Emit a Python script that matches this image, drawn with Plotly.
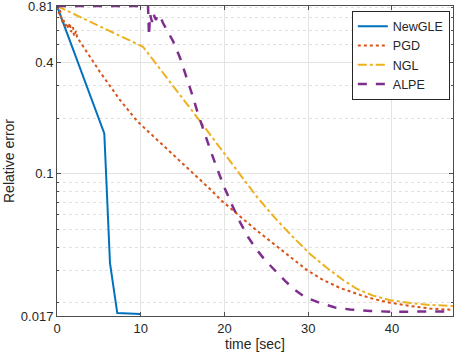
import plotly.graph_objects as go
import math

# ---- data ----
newgle_t = [0, 5.65, 6.33, 7.2, 9.92]
newgle_e = [0.81, 0.1657, 0.0328, 0.01763, 0.0174]

pgd_t = [0, 0.24, 0.36, 0.6, 0.72, 0.96, 1.2, 1.31, 1.55, 1.67, 1.91, 2.03, 2.27, 2.39,
         5.14, 7.53, 9.56, 11.11, 13.5, 15.89, 18.28, 19.71, 21.51, 23.66, 26.05, 27.84,
         29.87, 31.78, 33.81, 36.2, 37.99, 39.78, 42.17, 44.56, 47.31]
pgd_e = [0.81, 0.733, 0.77, 0.664, 0.697, 0.631, 0.655, 0.61, 0.655, 0.586, 0.623, 0.557, 0.593, 0.5503,
         0.3557, 0.2509, 0.1931, 0.1663, 0.1312, 0.1048, 0.0827, 0.0712, 0.0606, 0.0502, 0.0412, 0.0354,
         0.0301, 0.0266, 0.0241, 0.0221, 0.0209, 0.02005, 0.01925, 0.01866, 0.01831]

ngl_t = [0, 10.27, 17.08, 21.86, 23.89, 26.05, 28.08, 30.23, 32.26, 34.17, 35.84, 37.75,
         39.78, 42.17, 44.56, 47.31]
ngl_e = [0.81, 0.4877, 0.1931, 0.0985, 0.0749, 0.0576, 0.046, 0.0368, 0.0309, 0.0266, 0.0238, 0.0219,
         0.0207, 0.01998, 0.01949, 0.01924]

alpe_t = [0, 10.87, 10.99, 11.11, 11.35, 11.47, 11.83, 11.95, 12.31, 12.66, 13.26, 13.86, 14.7, 15.41,
          16.13, 16.85, 17.56, 18.4, 19.24, 20.07, 20.91, 21.86, 22.82, 23.78, 24.85, 26.05, 27.24,
          28.43, 29.63, 31.42, 33.21, 35.0, 37.4, 40.02, 43.37, 47.31]
alpe_e = [0.81, 0.81, 0.5572, 0.7327, 0.6635, 0.7419, 0.6802, 0.7242, 0.7151, 0.6553, 0.5857, 0.5236, 0.4236, 0.3426,
          0.2704, 0.2108, 0.1684, 0.1312, 0.1035, 0.0827, 0.0678, 0.0548, 0.0455, 0.0392, 0.0341, 0.0298, 0.0263,
          0.0235, 0.0215, 0.02, 0.0189, 0.01842, 0.01808, 0.01792, 0.01796, 0.018]

y_ticks = [0.017, 0.1, 0.4, 0.81]
y_ticklabels = ["0.017", "0.1", "0.4", "0.81"]
y_minor = [0.02, 0.03, 0.04, 0.05, 0.06, 0.07, 0.08, 0.09, 0.2, 0.3, 0.5, 0.6, 0.7, 0.8]
x_ticks = [0, 10, 20, 30, 40]

FONT = "Liberation Sans, Arial, sans-serif"
TXT = "#262626"

fig = go.Figure()
fig.add_trace(go.Scatter(x=newgle_t, y=newgle_e, name="NewGLE", mode="lines",
                         line=dict(color="#0072BD", width=2)))
fig.add_trace(go.Scatter(x=pgd_t, y=pgd_e, name="PGD", mode="lines",
                         line=dict(color="#D95319", width=2, dash="dot")))
fig.add_trace(go.Scatter(x=ngl_t, y=ngl_e, name="NGL", mode="lines",
                         line=dict(color="#EDB120", width=2, dash="dashdot")))
fig.add_trace(go.Scatter(x=alpe_t, y=alpe_e, name="ALPE", mode="lines",
                         line=dict(color="#7E2F8E", width=2.5, dash="dash")))

fig.update_layout(
    width=458, height=360,
    margin=dict(l=57, r=5, t=6, b=44),
    paper_bgcolor="white", plot_bgcolor="white",
    font=dict(family=FONT, size=13, color=TXT),
    showlegend=True,
    legend=dict(x=0.992, y=0.985, xanchor="right", yanchor="top",
                bgcolor="white", bordercolor="#262626", borderwidth=1,
                font=dict(size=12.5, color=TXT), tracegroupgap=0,
                itemwidth=30),
)
fig.update_xaxes(
    range=[0, 47.3], tickvals=x_ticks, ticks="inside", ticklen=4,
    tickcolor="#4d4d4d", showline=True, linecolor="#4d4d4d", linewidth=1, mirror="ticks",
    showgrid=True, gridcolor="#e3e3e3", gridwidth=1, zeroline=False, automargin=False,
    title=dict(text="time [sec]", font=dict(size=14, color=TXT), standoff=2),
    tickfont=dict(size=13, color=TXT),
)
fig.update_yaxes(
    type="log", range=[math.log10(0.01699), math.log10(0.8105)],
    tickvals=y_ticks, ticktext=y_ticklabels, ticks="inside", ticklen=4,
    tickcolor="#4d4d4d", showline=True, linecolor="#4d4d4d", linewidth=1, mirror="ticks",
    showgrid=True, gridcolor="#e3e3e3", gridwidth=1, zeroline=False, automargin=False,
    ticklabeloverflow="allow",
    minor=dict(tickvals=y_minor, ticks="inside", ticklen=2, tickcolor="#4d4d4d",
               showgrid=True, gridcolor="#e0e0e0", griddash="dot", gridwidth=1),
    title=dict(text="Relative error", font=dict(size=14, color=TXT), standoff=2),
    tickfont=dict(size=13, color=TXT),
)

fig.write_html("out.html", config={"displayModeBar": False},
               post_script="document.body.style.margin='0';document.body.style.padding='0';")
